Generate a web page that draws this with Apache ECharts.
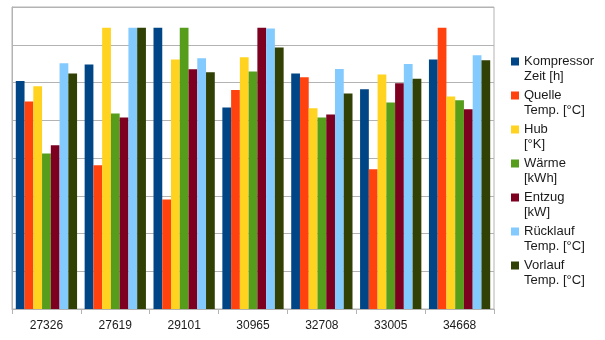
<!DOCTYPE html>
<html>
<head>
<meta charset="utf-8">
<script src="https://cdn.jsdelivr.net/npm/echarts@6/dist/echarts.min.js"></script>
<style>
  html, body { margin: 0; padding: 0; background: #fff; }
  #chart { width: 605px; height: 340px; }
</style>
</head>
<body>
<div id="chart"></div>
<script>
// Measurement runs (x axis) and the relative value of each quantity
const categories = ['27326', '27619', '29101', '30965', '32708', '33005', '34668'];

const seriesNames = [
  'Kompressor\nZeit [h]',
  'Quelle\nTemp. [°C]',
  'Hub\n[°K]',
  'Wärme\n[kWh]',
  'Entzug\n[kW]',
  'Rücklauf\nTemp. [°C]',
  'Vorlauf\nTemp. [°C]'
];

const kompressorZeit = [6.04, 6.48, 7.45, 5.34, 6.24, 5.82, 6.61];
const quelleTemp     = [5.50, 3.81, 2.90, 5.80, 6.14, 3.70, 7.45];
const hub            = [5.90, 7.45, 6.61, 6.67, 5.32, 6.21, 5.63];
const waerme         = [4.12, 5.18, 7.45, 6.29, 5.07, 5.47, 5.53];
const entzug         = [4.34, 5.07, 6.35, 7.45, 5.15, 5.98, 5.29];
const ruecklaufTemp  = [6.51, 7.45, 6.64, 7.43, 6.36, 6.49, 6.72];
const vorlaufTemp    = [6.24, 7.45, 6.27, 6.93, 5.71, 6.10, 6.59];

const seriesValues = [kompressorZeit, quelleTemp, hub, waerme, entzug, ruecklaufTemp, vorlaufTemp];

const colors = ['#004586', '#ff420e', '#ffd320', '#579d1c', '#7e0021', '#83caff', '#314004'];

// Legend marker: an 8x8 square at the top of a taller (empty) box, so the
// square lines up with the first line of each two-line legend entry.
const legendIcon = 'path://M0,0H8V8H0Z M0,23H8';

const chart = echarts.init(document.getElementById('chart'), null, { renderer: 'canvas' });

chart.setOption({
  animation: false,
  color: colors,
  textStyle: { fontFamily: 'Liberation Sans, Arial, sans-serif' },
  grid: {
    left: 12, top: 7, width: 482, height: 302,
    show: true, borderColor: '#b3b3b3', borderWidth: 1,
    containLabel: false
  },
  legend: {
    orient: 'vertical',
    left: 511,
    top: 54,
    padding: 0,
    itemWidth: 8,
    itemHeight: 23,
    itemGap: 4,
    icon: legendIcon,
    textStyle: {
      fontSize: 13,
      lineHeight: 15,
      color: '#1a1a1a'
    },
    data: seriesNames
  },
  xAxis: {
    type: 'category',
    data: categories,
    axisLine: { lineStyle: { color: '#b3b3b3' } },
    axisTick: { show: true, length: 5, lineStyle: { color: '#b3b3b3' } },
    axisLabel: { color: '#1a1a1a', fontSize: 12, margin: 11 }
  },
  yAxis: {
    type: 'value',
    min: 0, max: 8, interval: 1,
    axisLine: { show: true, lineStyle: { color: '#b3b3b3' } },
    axisTick: { show: false },
    axisLabel: { show: false },
    splitLine: { lineStyle: { color: '#b3b3b3' } }
  },
  series: seriesNames.map((name, i) => ({
    name: name,
    type: 'bar',
    data: seriesValues[i],
    barGap: '0%',
    barCategoryGap: '11%'
  }))
});
</script>
</body>
</html>
